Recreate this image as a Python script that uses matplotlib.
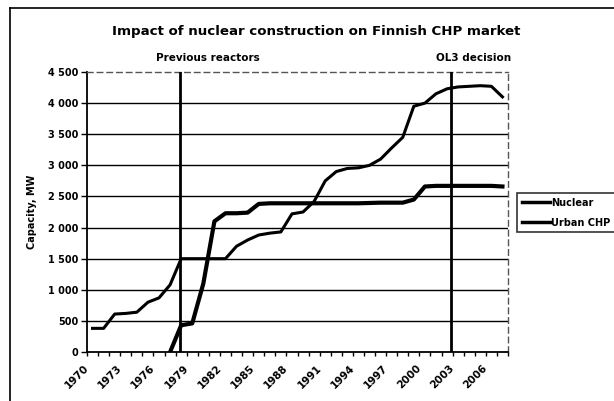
import matplotlib.pyplot as plt
import matplotlib.transforms as mtransforms
from matplotlib.lines import Line2D
from matplotlib.ticker import FuncFormatter, MultipleLocator
import numpy as np

# Data (MW)
years = np.arange(1970, 2008)
nuclear = [np.nan] * 7 + [
    0, 430, 460, 1100, 2100, 2230, 2230, 2240, 2380, 2390, 2390, 2390,
    2390, 2390, 2390, 2390, 2390, 2390, 2395, 2400, 2400, 2400, 2450, 2660,
    2670, 2670, 2670, 2670, 2670, 2670, 2660,
]
urban_chp = [
    380, 380, 610, 620, 640, 800, 870, 1080, 1500, 1500, 1500, 1500, 1500,
    1700, 1800, 1880, 1910, 1930, 2220, 2250, 2420, 2750, 2900, 2950, 2960,
    3000, 3100, 3280, 3450, 3950, 4000, 4150, 4230, 4260, 4270, 4280, 4270,
    4100,
]
event_years = [1977.85, 2002.35]
event_labels = ["Previous reactors", "OL3 decision"]
label_years = list(range(1970, 2008, 3))

FONT = "DejaVu Sans"

fig = plt.figure(figsize=(6.14, 4.01), dpi=100)
ax = fig.add_axes([87 / 614, 1 - 352 / 401, (508 - 87) / 614, (352 - 72) / 401])

# Horizontal gridlines
for v in range(500, 4500, 500):
    ax.axhline(v, color="black", linewidth=1.0, zorder=1)

ax.plot(years, urban_chp, color="black", linewidth=2.2, solid_joinstyle="round", zorder=3)
ax.plot(years, nuclear, color="black", linewidth=3.0, solid_joinstyle="round", zorder=3)

# Event lines, labels sit a little right of centre as in the original
label_shift = [-24, -15]  # pixels from the line to the label's left edge
for x, label, dx in zip(event_years, event_labels, label_shift):
    ax.axvline(x, color="black", linewidth=2.0, zorder=4)
    tr = ax.transData + mtransforms.ScaledTranslation(dx / 100, 0, fig.dpi_scale_trans)
    ax.text(x, 4650, label, ha="left", va="bottom", fontsize=7.5,
            fontweight="bold", family=FONT, transform=tr)

ax.set_xlim(1969.5, 2007.5)
ax.set_ylim(0, 4500)

# Plot area border: solid left/bottom, dashed grey top/right
for side in ["top", "right"]:
    ax.spines[side].set_linestyle((0, (4, 3)))
    ax.spines[side].set_color("#555555")
    ax.spines[side].set_linewidth(1.0)
for side in ["left", "bottom"]:
    ax.spines[side].set_linewidth(1.3)

ax.yaxis.set_major_locator(MultipleLocator(500))
ax.yaxis.set_major_formatter(FuncFormatter(lambda v, p: f"{int(v):,}".replace(",", " ")))
ax.tick_params(axis="y", length=4, width=1, labelsize=7, pad=2)

ax.set_xticks(label_years)
ax.set_xticklabels([str(y) for y in label_years], rotation=45, ha="right",
                   rotation_mode="anchor", fontsize=7.5, fontweight="bold", family=FONT)
ax.set_xticks(np.arange(1969.5, 2008, 1), minor=True)
ax.tick_params(axis="x", which="major", length=0, pad=8)
ax.tick_params(axis="x", which="minor", length=3, width=1, direction="out")
shift = mtransforms.ScaledTranslation(-9 / 100, 0, fig.dpi_scale_trans)
for t in ax.get_xticklabels():
    t.set_transform(t.get_transform() + shift)
for t in ax.get_yticklabels():
    t.set_fontweight("bold")
    t.set_family(FONT)

ax.set_ylabel("Capacity, MW", fontsize=7, fontweight="bold", family=FONT, labelpad=8)

fig.text(316 / 614, 1 - 31 / 401, "Impact of nuclear construction on Finnish CHP market",
         ha="center", va="center", fontsize=9.6, fontweight="bold", family=FONT)

# Outer chart border
fig.add_artist(Line2D([10 / 614, 10 / 614], [1 - 8 / 401, 0], color="black", linewidth=1.2))
fig.add_artist(Line2D([10 / 614, 1.0], [1 - 8 / 401, 1 - 8 / 401], color="black", linewidth=1.2))

handles = [Line2D([], [], color="black", linewidth=2.5),
           Line2D([], [], color="black", linewidth=2.5)]
leg = fig.legend(handles, ["Nuclear", "Urban CHP"], loc="upper left",
                 bbox_to_anchor=(517 / 614, 1 - 193 / 401), frameon=True,
                 fancybox=False, edgecolor="black", handlelength=2.9,
                 handletextpad=0.1, borderpad=0.5, labelspacing=1.0,
                 prop={"size": 7, "weight": "bold", "family": FONT},
                 borderaxespad=0)
leg.get_frame().set_linewidth(1.2)

fig.savefig("out.png", dpi=100)
